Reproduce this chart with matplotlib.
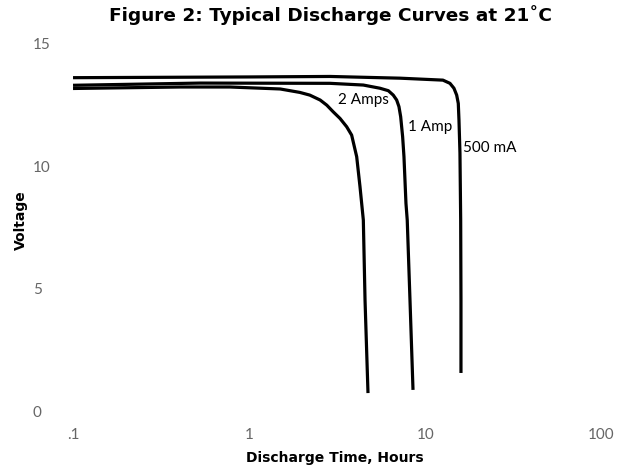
import numpy as np
import matplotlib
matplotlib.use('Agg')
import matplotlib.pyplot as plt

# discharge curves (hours, volts)
t_500ma = [0.1, 1.01, 2.88, 7.18, 12.6, 13.81, 14.55, 15.08, 15.40, 15.54, 15.74, 15.89, 15.95, 15.95]
v_500ma = [13.60, 13.63, 13.65, 13.58, 13.50, 13.37, 13.17, 12.89, 12.55, 11.87, 10.53, 7.80, 4.54, 1.57]

t_1a = [0.1, 0.526, 2.88, 4.45, 5.53, 6.17, 6.58, 6.88, 7.09, 7.25, 7.44, 7.57, 7.77, 7.90, 8.19, 8.52]
v_1a = [13.29, 13.38, 13.37, 13.30, 13.17, 13.07, 12.89, 12.69, 12.42, 12.01, 11.19, 10.38, 8.48, 7.80, 4.54, 0.88]

t_2a = [0.1, 0.405, 0.778, 1.50, 1.94, 2.21, 2.53, 2.76, 3.00, 3.28, 3.58, 3.82, 4.08, 4.26, 4.45, 4.55, 4.73]
v_2a = [13.16, 13.22, 13.22, 13.14, 13.00, 12.89, 12.69, 12.48, 12.21, 11.94, 11.60, 11.26, 10.38, 9.16, 7.80, 4.54, 0.75]

curve_labels = ['2 Amps', '1 Amp', '500 mA']
label_pos = [(3.2, 12.69), (8.0, 11.59), (16.4, 10.73)]

xticks = [0.1, 1, 10, 100]
xticklabels = ['.1', '1', '10', '100']
yticks = [0, 5, 10, 15]

fig = plt.figure(figsize=(6.21, 4.75), dpi=100)
ax = fig.add_axes([0.1176, 0.1337, 0.8508, 0.7751])

for t, v in [(t_500ma, v_500ma), (t_1a, v_1a), (t_2a, v_2a)]:
    ax.plot(t, v, color='black', lw=2.3, solid_capstyle='butt', solid_joinstyle='round')

for lab, (x, y) in zip(curve_labels, label_pos):
    ax.text(x, y, lab, fontsize=11, family='Lato', va='center', ha='left')

ax.set_xscale('log')
ax.set_xlim(0.1, 100)
ax.set_ylim(0, 15)
ax.set_xticks(xticks)
ax.set_xticklabels(xticklabels)
ax.minorticks_off()
ax.set_yticks(yticks)
for s in ax.spines.values():
    s.set_visible(False)
ax.tick_params(length=0, labelsize=11, labelcolor='#666666')
ax.tick_params(axis='x', pad=12)
ax.tick_params(axis='y', pad=29)
for lbl in ax.get_yticklabels():
    lbl.set_horizontalalignment('left')
for lbl in ax.get_xticklabels() + ax.get_yticklabels():
    lbl.set_family('Lato')

fig.text(330/621, 1 - 15/475, 'Figure 2: Typical Discharge Curves at 21˚C',
         ha='center', va='center', fontsize=13.3, fontweight='bold', family='DejaVu Sans')
fig.text(335/621, 1 - 458/475, 'Discharge Time, Hours',
         ha='center', va='center', fontsize=10, fontweight='bold', family='DejaVu Sans')
fig.text(21/621, 1 - 220/475, 'Voltage', rotation=90,
         ha='center', va='center', fontsize=10, fontweight='bold', family='DejaVu Sans')

fig.savefig('out.png', dpi=100)
